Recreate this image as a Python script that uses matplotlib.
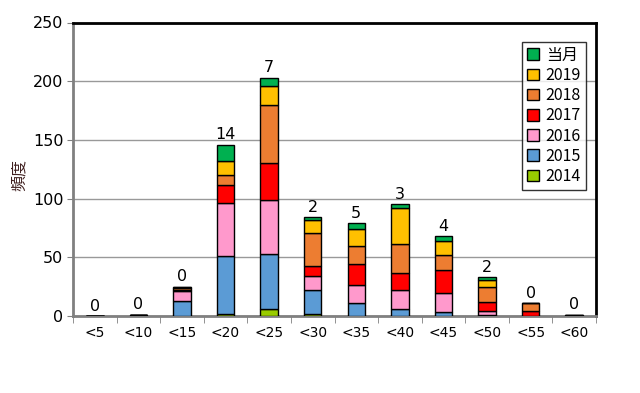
import matplotlib
matplotlib.use("Agg")
import matplotlib.pyplot as plt
import numpy as np

plt.rcParams['font.family'] = ['Noto Sans CJK JP', 'DejaVu Sans']

categories = ["<5", "<10", "<15", "<20", "<25", "<30", "<35", "<40", "<45", "<50", "<55", "<60"]
y2014 = [0, 0, 0, 2, 6, 2, 0, 0, 0, 0, 0, 0]
y2015 = [0, 1, 13, 49, 47, 20, 11, 6, 3, 1, 0, 0]
y2016 = [0, 0, 8, 45, 46, 12, 15, 16, 17, 3, 0, 0]
y2017 = [0, 0, 1, 16, 31, 9, 18, 15, 19, 8, 4, 0]
y2018 = [0, 0, 2, 8, 50, 28, 16, 24, 13, 13, 7, 1]
y2019 = [0, 0, 1, 12, 16, 11, 14, 31, 12, 6, 0, 0]
current = [0, 0, 0, 14, 7, 2, 5, 3, 4, 2, 0, 0]

series = [("2014", y2014, "#99CC00"), ("2015", y2015, "#5B9BD5"),
          ("2016", y2016, "#FF99CC"), ("2017", y2017, "#FF0000"),
          ("2018", y2018, "#ED7D31"), ("2019", y2019, "#FFC000"),
          ("当月", current, "#00B050")]

fig = plt.figure(figsize=(6.4, 3.93), dpi=100)
ax = fig.add_axes([73/640, 1-316/393, (596-73)/640, (316-22.5)/393])

x = np.arange(len(categories))
bottom = np.zeros(len(categories))
handles = []
for name, vals, col in series:
    v = np.array(vals, dtype=float)
    h = ax.bar(x, v, 0.4, bottom=bottom, color=col, edgecolor="black", linewidth=1.0, label=name, zorder=3)
    handles.append(h)
    bottom += v

for i in range(len(categories)):
    ax.text(x[i], bottom[i] + 2, str(current[i]), ha="center", va="bottom", fontsize=11.5,
            family="DejaVu Sans", zorder=4)

ax.set_xlim(-0.5, len(categories) - 0.5)
ax.set_ylim(0, 250)
ax.set_yticks([0, 50, 100, 150, 200, 250])
ax.yaxis.grid(True, color="#999999", linewidth=1.0, zorder=0)
ax.set_axisbelow(True)

ax.set_xticks(x)
ax.set_xticklabels(categories, fontsize=10, family="DejaVu Sans")
ax.set_xticks(np.arange(-0.5, len(categories)), minor=True)
ax.tick_params(axis="x", which="major", length=0, pad=7)
ax.tick_params(axis="x", which="minor", length=5, color="#808080", direction="out")
ax.tick_params(axis="y", length=4, color="#808080", direction="out", labelsize=11.5, pad=3)
for lab in ax.get_yticklabels():
    lab.set_family("DejaVu Sans")

ax.spines["left"].set_color("#808080")
ax.spines["left"].set_linewidth(2)
ax.spines["bottom"].set_color("#808080")
ax.spines["bottom"].set_linewidth(2)
ax.spines["top"].set_color("black")
ax.spines["top"].set_linewidth(2)
ax.spines["right"].set_color("black")
ax.spines["right"].set_linewidth(2)

ax.set_ylabel("頻度", fontsize=11.5, color="#402020")
ax.yaxis.set_label_coords(-0.086, 0.48)

leg = ax.legend(handles[::-1], [s[0] for s in series][::-1], loc="upper right",
                bbox_to_anchor=(0.99, 0.95), fontsize=11.5, frameon=True, fancybox=False,
                edgecolor="black", handlelength=0.75, handleheight=0.75, handletextpad=0.45,
                labelspacing=0.2, borderpad=0.3, borderaxespad=0.3)
leg.get_frame().set_linewidth(1.0)

fig.savefig("out.png", dpi=100)
